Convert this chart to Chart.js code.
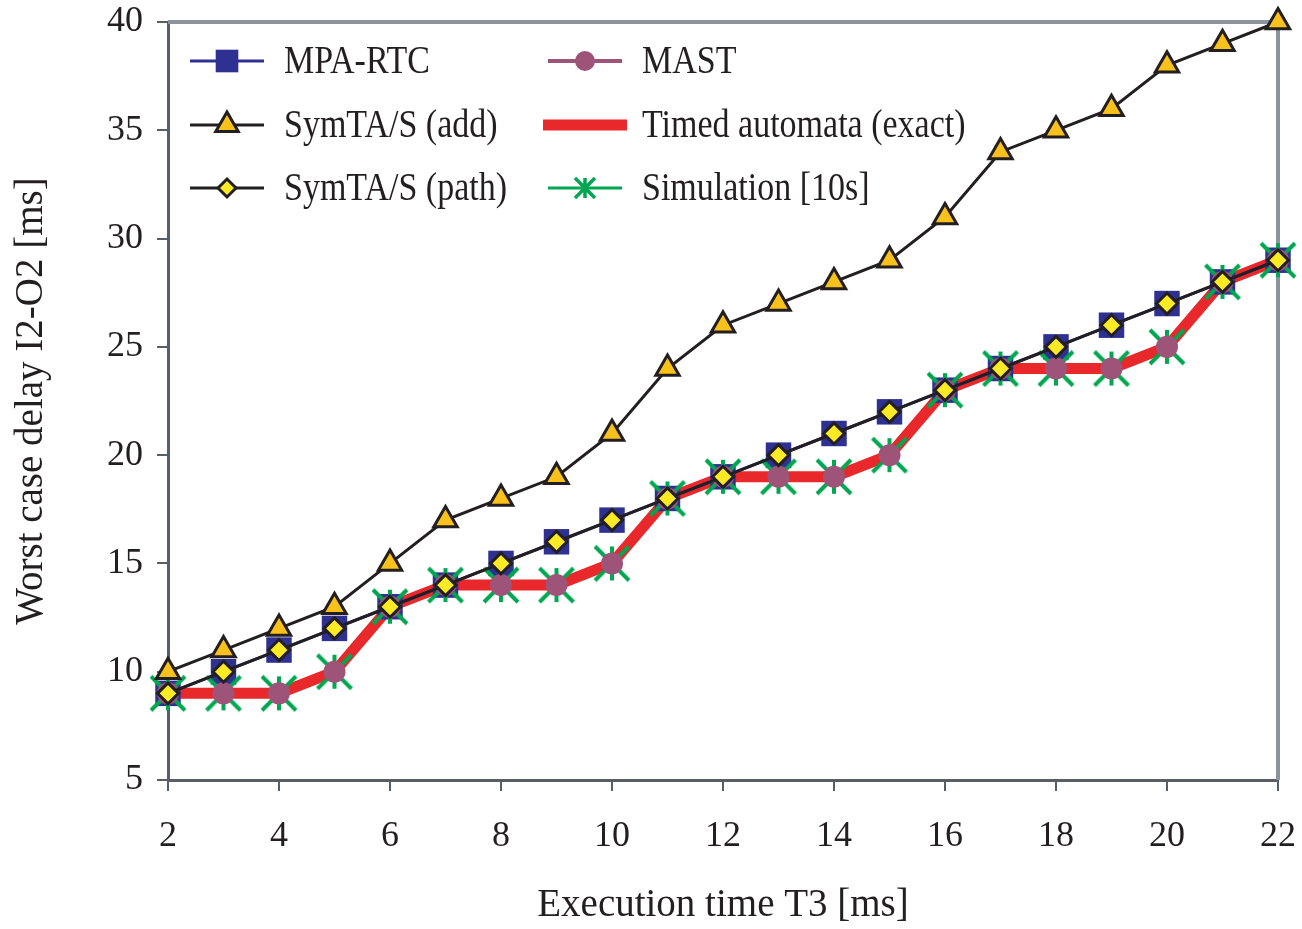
<!DOCTYPE html>
<html>
<head>
<meta charset="utf-8">
<script src="https://cdn.jsdelivr.net/npm/chart.js@4"></script>
<style>
  html, body { margin: 0; padding: 0; background: #ffffff; }
  #wrap { width: 1302px; height: 929px; }
</style>
</head>
<body>
<div id="wrap"><canvas id="delay" width="1302" height="929"></canvas></div>
<script>
// execution time T3 [ms]
const execTime = [2, 3, 4, 5, 6, 7, 8, 9, 10, 11, 12, 13, 14, 15, 16, 17, 18, 19, 20, 21, 22];

// worst case delay I2-O2 [ms]
const mpaRtc     = [9, 10, 11, 12, 13, 14, 15, 16, 17, 18, 19, 20, 21, 22, 23, 24, 25, 26, 27, 28, 29];
const symtaAdd   = [10, 11, 12, 13, 15, 17, 18, 19, 21, 24, 26, 27, 28, 29, 31, 34, 35, 36, 38, 39, 40];
const symtaPath  = [9, 10, 11, 12, 13, 14, 15, 16, 17, 18, 19, 20, 21, 22, 23, 24, 25, 26, 27, 28, 29];
const mast       = [9, 9, 9, 10, 13, 14, 14, 14, 15, 18, 19, 19, 19, 20, 23, 24, 24, 24, 25, 28, 29];
const timedAuto  = [9, 9, 9, 10, 13, 14, 14, 14, 15, 18, 19, 19, 19, 20, 23, 24, 24, 24, 25, 28, 29];
const simulation = [9, 9, 9, 10, 13, 14, 14, 14, 15, 18, 19, 19, 19, 20, 23, 24, 24, 24, 25, 28, 29];

const yTicks = [5, 10, 15, 20, 25, 30, 35, 40];
const xTicks = [2, 4, 6, 8, 10, 12, 14, 16, 18, 20, 22];

const FONT = "'Liberation Serif', 'Times New Roman', serif";
const INK = '#231f20';
const AXIS = '#575e66';

function pts(ys) {
  return execTime.map((x, i) => ({ x: x, y: ys[i] }));
}

// six-armed asterisk used by the simulation series
function asterisk(len, w, color) {
  const c = document.createElement('canvas');
  const s = Math.ceil(len * 2 + w + 2);
  c.width = s;
  c.height = s;
  const g = c.getContext('2d');
  const m = s / 2;
  g.strokeStyle = color;
  g.lineWidth = w;
  g.beginPath();
  g.moveTo(m, m - len); g.lineTo(m, m + len);
  g.moveTo(m - len, m - len); g.lineTo(m + len, m + len);
  g.moveTo(m + len, m - len); g.lineTo(m - len, m + len);
  g.stroke();
  return c;
}
const star = asterisk(17, 4, '#00a650');
const smallStar = asterisk(10, 3.5, '#00a650');

// legend placed inside the plot, two columns
const legendSlots = {
  'MPA-RTC': [227, 61],
  'SymTA/S (add)': [227, 125],
  'SymTA/S (path)': [227, 188],
  'MAST': [585, 61],
  'Timed automata (exact)': [585, 125],
  'Simulation [10s]': [585, 188]
};

const insideLegend = {
  id: 'insideLegend',
  afterDatasetsDraw(chart) {
    const ctx = chart.ctx;
    ctx.save();
    chart.data.datasets.forEach(ds => {
      const slot = legendSlots[ds.label];
      const x = slot[0], y = slot[1];
      const half = ds.legendHalf || 37;
      ctx.strokeStyle = ds.borderColor;
      ctx.lineWidth = ds.borderWidth;
      ctx.lineCap = 'butt';
      ctx.beginPath();
      ctx.moveTo(x - half, y);
      ctx.lineTo(x + half, y);
      ctx.stroke();
      if (ds.pointRadius > 0) {
        ctx.fillStyle = ds.pointBackgroundColor;
        ctx.strokeStyle = ds.pointBorderColor;
        ctx.lineWidth = ds.pointBorderWidth;
        Chart.helpers.drawPoint(ctx, {
          pointStyle: ds.legendStyle || ds.pointStyle,
          radius: ds.legendRadius || ds.pointRadius,
          borderWidth: ds.pointBorderWidth,
          rotation: 0
        }, x, y);
      }
      // text a little taller than wide, like the original
      ctx.save();
      ctx.translate(x + 57, y + 2);
      ctx.scale(1, 1.15);
      ctx.fillStyle = INK;
      ctx.font = '34px ' + FONT;
      ctx.textAlign = 'left';
      ctx.textBaseline = 'middle';
      ctx.fillText(ds.label, 0, 0);
      ctx.restore();
    });
    ctx.restore();
  }
};

// grey frame on top and right of plot
const frame = {
  id: 'frame',
  beforeDatasetsDraw(chart) {
    const a = chart.chartArea;
    const ctx = chart.ctx;
    ctx.save();
    ctx.strokeStyle = '#8c939b';
    ctx.lineWidth = 4;
    ctx.beginPath();
    ctx.moveTo(a.left, a.top);
    ctx.lineTo(a.right, a.top);
    ctx.lineTo(a.right, a.bottom);
    ctx.stroke();
    ctx.restore();
  }
};

function noOverhang(scale) {
  scale.paddingTop = 0;
  scale.paddingBottom = 0;
  scale.paddingLeft = 0;
  scale.paddingRight = 0;
}

new Chart(document.getElementById('delay'), {
  type: 'line',
  data: {
    datasets: [
      {
        label: 'SymTA/S (path)',
        data: pts(symtaPath),
        order: 0,
        borderColor: INK,
        borderWidth: 3,
        pointStyle: 'rectRot',
        pointRadius: 10.5,
        legendRadius: 9,
        pointBackgroundColor: '#fbea24',
        pointBorderColor: INK,
        pointBorderWidth: 3
      },
      {
        label: 'SymTA/S (add)',
        data: pts(symtaAdd),
        order: 1,
        borderColor: INK,
        borderWidth: 3,
        pointStyle: 'triangle',
        pointRadius: 13.5,
        legendRadius: 13,
        pointBackgroundColor: '#f9c11b',
        pointBorderColor: INK,
        pointBorderWidth: 3
      },
      {
        label: 'MAST',
        data: pts(mast),
        order: 2,
        showLine: false,
        borderColor: '#9e5479',
        borderWidth: 4,
        pointStyle: 'circle',
        pointRadius: 11,
        legendRadius: 10,
        pointBackgroundColor: '#9e5479',
        pointBorderColor: '#9e5479',
        pointBorderWidth: 0
      },
      {
        label: 'Simulation [10s]',
        data: pts(simulation),
        order: 3,
        showLine: false,
        borderColor: '#00a650',
        borderWidth: 3,
        pointStyle: star,
        legendStyle: smallStar,
        pointRadius: 17,
        pointBackgroundColor: '#00a650',
        pointBorderColor: '#00a650',
        pointBorderWidth: 0
      },
      {
        label: 'MPA-RTC',
        data: pts(mpaRtc),
        order: 4,
        borderColor: '#2e3192',
        borderWidth: 3,
        pointStyle: 'rect',
        pointRadius: 18,
        legendRadius: 16,
        pointBackgroundColor: '#2e3192',
        pointBorderColor: '#2e3192',
        pointBorderWidth: 0
      },
      {
        label: 'Timed automata (exact)',
        data: pts(timedAuto),
        order: 5,
        borderColor: '#e8282b',
        borderWidth: 11,
        legendHalf: 42,
        borderJoinStyle: 'round',
        pointRadius: 0,
        pointHoverRadius: 0
      }
    ]
  },
  options: {
    responsive: false,
    animation: false,
    events: [],
    clip: false,
    layout: { padding: { top: 22, right: 24, left: 0, bottom: 0 } },
    plugins: {
      legend: { display: false },
      tooltip: { enabled: false }
    },
    scales: {
      x: {
        type: 'linear',
        min: 2,
        max: 22,
        afterBuildTicks(scale) { scale.ticks = xTicks.map(v => ({ value: v })); },
        afterFit(scale) { scale.height = 149; noOverhang(scale); },
        border: { display: true, color: AXIS, width: 3 },
        grid: { drawOnChartArea: false, drawTicks: true, tickLength: 11, color: AXIS, lineWidth: 2 },
        ticks: { color: INK, padding: 24, font: { family: FONT, size: 36 }, maxRotation: 0 },
        title: {
          display: true,
          text: 'Execution time T3 [ms]',
          color: INK,
          font: { family: FONT, size: 39 },
          padding: { top: 0, bottom: 0 }
        }
      },
      y: {
        type: 'linear',
        min: 5,
        max: 40,
        afterBuildTicks(scale) { scale.ticks = yTicks.map(v => ({ value: v })); },
        afterFit(scale) { scale.width = 168; noOverhang(scale); },
        border: { display: true, color: AXIS, width: 3 },
        grid: { drawOnChartArea: false, drawTicks: true, tickLength: 11, color: AXIS, lineWidth: 2 },
        ticks: { color: INK, padding: 14, font: { family: FONT, size: 36 } },
        title: {
          display: true,
          text: 'Worst case delay I2-O2 [ms]',
          color: INK,
          font: { family: FONT, size: 39 },
          padding: { top: 8, bottom: 0 }
        }
      }
    }
  },
  plugins: [frame, insideLegend]
});
</script>
</body>
</html>
